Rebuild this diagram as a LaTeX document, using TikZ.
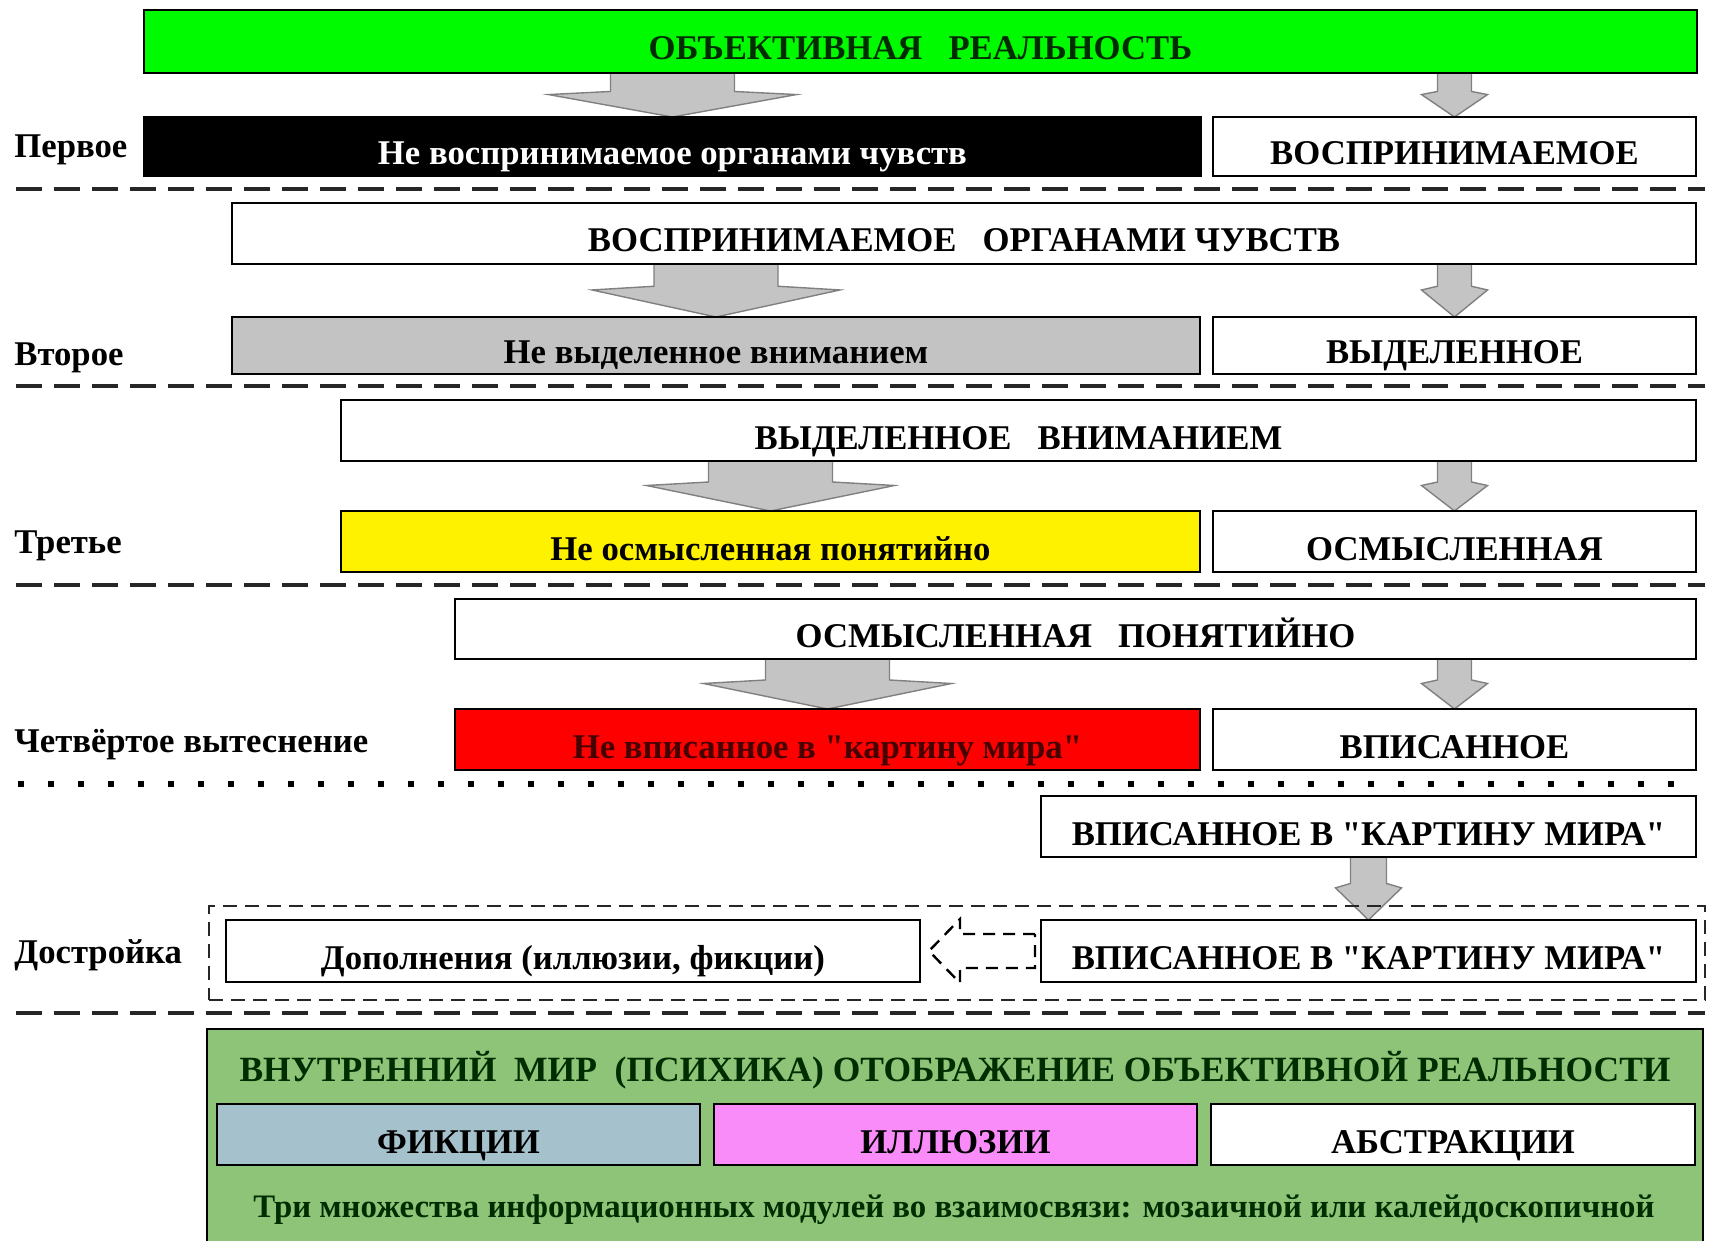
\documentclass[tikz,border=0pt]{standalone}
\usepackage{fontspec}
\setmainfont{Liberation Serif}
\newfontfamily\qfont{Liberation Serif}
\usetikzlibrary{calc,backgrounds}
\definecolor{brightgreen}{RGB}{0,250,0}
\definecolor{boxgray}{RGB}{195,195,195}
\definecolor{arrowgray}{RGB}{196,196,196}
\definecolor{arrowedge}{RGB}{128,128,128}
\definecolor{psygreen}{RGB}{142,196,120}
\definecolor{ficblue}{RGB}{165,194,204}
\definecolor{illpink}{RGB}{250,140,250}
\definecolor{darkredtext}{RGB}{70,0,0}
\definecolor{darkgreentext}{RGB}{0,45,0}
\newcommand\qq{{\qfont\bfseries"}}
\tikzset{
  box/.style={draw=black, line width=1.3pt, inner sep=0pt, outer sep=0pt,
    font=\bfseries\fontsize{17.35}{20}\selectfont, align=center,
    text height=18.5pt, text depth=0pt},
  lbl/.style={inner sep=0pt, anchor=west, font=\bfseries\fontsize{17.35}{20}\selectfont},
  barrow/.style={fill=arrowgray, draw=arrowedge, line width=0.7pt, line join=miter},
  hollowdash/.style={draw=black, line width=1.2pt, dash pattern=on 6pt off 4pt},
  sepline/.style={draw=black!85, line width=1.6pt, dash pattern=on 13pt off 6pt},
  dotline/.style={draw=black, line width=3pt, dash pattern=on 3pt off 12pt},
  framedash/.style={draw=black!85, line width=1.3pt, dash pattern=on 7pt off 4pt, inner sep=0pt, outer sep=0pt},
}
\newcommand\rbox[7]{\node[box,#2,minimum width={(#5-#3)*0.5pt},minimum height={(#6-#4)*0.5pt}] (#1) at ({(#3+#5)/2},{(#4+#6)/2}) {#7};}
\newcommand\blockarr[4]{%
  \coordinate (ba-t) at (#2.north |- #1.south);
  \coordinate (ba-b1) at ($(ba-t)!0.42!(#2.north)$);
  \coordinate (ba-b2) at ($(ba-t)!0.49!(#2.north)$);
  \draw[barrow] ($(ba-t)+(-#3,0)$) -- ($(ba-t)+(#3,0)$) -- ($(ba-b1)+(#3,0)$)
     -- ($(ba-b2)+(#4,0)$) -- (#2.north) -- ($(ba-b2)+(-#4,0)$)
     -- ($(ba-b1)+(-#3,0)$) -- cycle;}
\begin{document}
\begin{tikzpicture}[x=0.5pt,y=-0.5pt]
\begin{pgfonlayer}{background}
\fill[white] (0,0) rectangle (1709,1241);
\end{pgfonlayer}
\useasboundingbox (0,0) rectangle (1709,1241);

% row 1
\rbox{real}{fill=brightgreen,text=darkgreentext}{144}{10}{1697}{73}{ОБЪЕКТИВНАЯ~~~РЕАЛЬНОСТЬ}
\rbox{n1}{fill=black,text=white}{144}{117}{1201}{176}{Не воспринимаемое органами чувств}
\rbox{y1}{fill=white}{1213}{117}{1696}{176}{ВОСПРИНИМАЕМОЕ}
% row 2
\rbox{a2}{fill=white}{232}{203}{1696}{264}{ВОСПРИНИМАЕМОЕ~~~ОРГАНАМИ ЧУВСТВ}
\rbox{n2}{fill=boxgray}{232}{317}{1200}{374}{Не выделенное вниманием}
\rbox{y2}{fill=white}{1213}{317}{1696}{374}{ВЫДЕЛЕННОЕ}
% row 3
\rbox{a3}{fill=white}{341}{400}{1696}{461}{ВЫДЕЛЕННОЕ~~~ВНИМАНИЕМ}
\rbox{n3}{fill=yellow}{341}{511}{1200}{572}{Не осмысленная понятийно}
\rbox{y3}{fill=white}{1213}{511}{1696}{572}{ОСМЫСЛЕННАЯ}
% row 4
\rbox{a4}{fill=white}{455}{599}{1696}{659}{ОСМЫСЛЕННАЯ~~~ПОНЯТИЙНО}
\rbox{n4}{fill=red,text=darkredtext}{455}{709}{1200}{770}{Не вписанное в \qq картину мира\qq}
\rbox{y4}{fill=white}{1213}{709}{1696}{770}{ВПИСАННОЕ}
% row 5
\rbox{a5}{fill=white}{1041}{796}{1696}{857}{ВПИСАННОЕ В \qq КАРТИНУ МИРА\qq}
\node[framedash,minimum width={1496*0.5pt},minimum height={94*0.5pt}] (frame) at (957,953) {};
\rbox{dop}{fill=white}{226}{920}{920}{982}{Дополнения (иллюзии, фикции)}
\rbox{vp2}{fill=white}{1041}{920}{1696}{982}{ВПИСАННОЕ В \qq КАРТИНУ МИРА\qq}
% bottom
\rbox{psy}{fill=psygreen}{207}{1029}{1703}{1250}{}
\node[inner sep=0pt,text=darkgreentext,font=\bfseries\fontsize{17.75}{20}\selectfont] (psyhead) at (955,1070) {ВНУТРЕННИЙ~~МИР~~(ПСИХИКА) ОТОБРАЖЕНИЕ ОБЪЕКТИВНОЙ РЕАЛЬНОСТИ};
\rbox{fic}{fill=ficblue}{217}{1104}{700}{1165}{ФИКЦИИ}
\rbox{ill}{fill=illpink}{714}{1104}{1197}{1165}{ИЛЛЮЗИИ}
\rbox{abs}{fill=white}{1211}{1104}{1695}{1165}{АБСТРАКЦИИ}
\node[inner sep=0pt,text=darkgreentext,font=\bfseries\fontsize{16.4}{18}\selectfont] (psyfoot) at (954,1210) {Три множества информационных модулей во взаимосвязи: мозаичной или калейдоскопичной};

% labels
\node[lbl] (l1) at (14,150) {Первое};
\node[lbl] (l2) at (14,358) {Второе};
\node[lbl] (l3) at (14,546) {Третье};
\node[lbl] (l4) at (14,745) {Четвёртое вытеснение};
\node[lbl] (l5) at (14,955) {Достройка};

% separators
\draw[sepline] (16,189) -- (1705,189);
\draw[sepline] (16,386) -- (1705,386);
\draw[sepline] (16,585) -- (1705,585);
\draw[dotline] (18,784) -- (1680,784);
\draw[sepline] (16,1013) -- (1705,1013);

% arrows
\begin{pgfonlayer}{background}
\blockarr{real}{n1}{62}{124}
\blockarr{real}{y1}{17}{33}
\blockarr{a2}{n2}{62}{124}
\blockarr{a2}{y2}{17}{33}
\blockarr{a3}{n3}{62}{124}
\blockarr{a3}{y3}{17}{33}
\blockarr{a4}{n4}{62}{124}
\blockarr{a4}{y4}{17}{33}
\blockarr{a5}{vp2}{18}{33}
\end{pgfonlayer}
\coordinate (ha-r) at ($(vp2.west)+(-6,0)$);
\coordinate (ha-t) at ($(dop.east)+(9,0)$);
\draw[hollowdash] ($(ha-r)+(0,-17)$) -- ($(ha-t)+(31,-17)$) -- ($(ha-t)+(31,-32)$) -- (ha-t)
  -- ($(ha-t)+(31,32)$) -- ($(ha-t)+(31,17)$) -- ($(ha-r)+(0,17)$) -- cycle;
\end{tikzpicture}
\end{document}
